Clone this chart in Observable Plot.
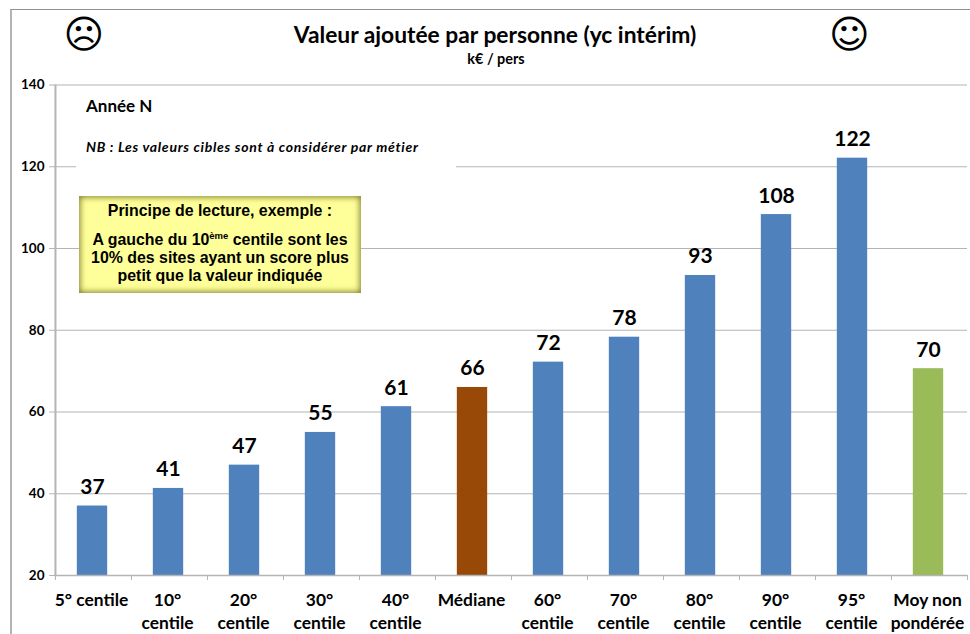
<!DOCTYPE html>
<html lang="fr">
<head>
<meta charset="utf-8">
<script src="https://cdn.jsdelivr.net/npm/d3@7"></script>
<script src="https://cdn.jsdelivr.net/npm/@observablehq/plot@0.6"></script>
<style>
html,body{margin:0;padding:0;background:#fff;}
#root{position:relative;width:970px;height:634px;overflow:hidden;font-family:Lato,"Open Sans",sans-serif;color:#000;}
#frame{position:absolute;left:10px;top:9px;right:-2px;bottom:-2px;border-left:2px solid #b4b4b4;border-top:1.5px solid #8f8f8f;}
#head{position:absolute;left:0;top:0;width:990px;text-align:center;font-weight:700;}
#title{position:absolute;top:21px;left:0;width:990px;font-size:22.8px;line-height:26px;}
#sub{position:absolute;top:51px;left:0;width:992px;font-size:14.4px;line-height:16px;}
.face{position:absolute;top:10px;font:400 39px/50px "DejaVu Sans";}
svg{position:absolute;left:0;top:0;}
#year{position:absolute;left:86px;top:97px;font-weight:700;font-size:17px;line-height:18px;}
#nb{position:absolute;left:76px;top:137px;width:370px;padding-left:10px;height:32px;background:#fff;font:italic 700 14px/20px Lato,sans-serif;letter-spacing:0.72px;white-space:nowrap;}
#box{position:absolute;left:79px;top:196px;width:282px;height:97px;box-sizing:border-box;background:#ffff99;box-shadow:inset 0 0 6px 1px #77772c;text-align:center;font:700 15.9px/18px "Liberation Sans",sans-serif;padding-top:6px;white-space:nowrap;}
#box p{margin:0;}
#box p.first{margin-bottom:11px;}
#box sup{font-size:9.5px;line-height:0;}
</style>
</head>
<body>
<div id="root">
  <div id="chart"></div>
  <div id="frame"></div>
  <div id="head">
    <div id="title">Valeur ajoutée par personne (yc intérim)</div>
    <div id="sub">k€ / pers</div>
  </div>
  <div class="face" style="left:63.5px">☹</div>
  <div class="face" style="left:829px">☺</div>
  <div id="year">Année N</div>
  <div id="nb">NB : Les valeurs cibles sont à considérer par métier</div>
  <div id="box">
    <p class="first">Principe de lecture, exemple :</p>
    <p>A gauche du 10<sup>ème</sup> centile sont les<br>10% des sites ayant un score plus<br>petit que la valeur indiquée</p>
  </div>
</div>
<script>
const categories = ["5° centile","10°\ncentile","20°\ncentile","30°\ncentile","40°\ncentile","Médiane","60°\ncentile","70°\ncentile","80°\ncentile","90°\ncentile","95°\ncentile","Moy non\npondérée"];
const values = [37, 41.3, 47, 55, 61.3, 66, 72.2, 78.3, 93.4, 108.3, 122.1, 70.6];
const valueLabels = ["37","41","47","55","61","66","72","78","93","108","122","70"];
const groups = ["c","c","c","c","c","m","c","c","c","c","c","a"];
const groupDomain = ["c","m","a"];
const groupColors = ["#4f81bd","#984807","#9bbb59"];
const yTicks = [20,40,60,80,100,120,140];

const rows = categories.map((c,i)=>({c, v:values[i], label:valueLabels[i], g:groups[i]}));

const width = 970, height = 634, mL = 54, mR = 3, mT = 84.5, mB = 59;
const step = (width - mL - mR) / categories.length;
const axisGrey = "#b4b4b4";

const plot = Plot.plot({
  width, height,
  marginLeft: mL, marginRight: mR, marginTop: mT, marginBottom: mB,
  style: {background:"transparent", fontFamily:"Lato, sans-serif", overflow:"visible"},
  x: {type:"band", domain:categories, padding:0, align:0.5, label:null},
  y: {type:"linear", domain:[20,140], label:null},
  color: {type:"ordinal", domain:groupDomain, range:groupColors},
  marks: [
    Plot.gridY(yTicks, {stroke:axisGrey, strokeOpacity:1, strokeWidth:1.2}),
    Plot.ruleX([categories[0]], {x:d=>d, dx:-step/2, y1:20, y2:140, stroke:axisGrey, strokeWidth:2}),
    Plot.barY(rows, {x:"c", y1:()=>20, y2:"v", fill:"g", insetLeft:step*0.3, insetRight:step*0.3, dx:-1}),
    Plot.ruleY([20], {stroke:axisGrey, strokeWidth:1.5}),
    Plot.axisX({tickSize:5, dx:-step/2, text:null, stroke:axisGrey, label:null}),
    Plot.axisX([categories[categories.length-1]], {tickSize:5, dx:step/2, text:null, stroke:axisGrey, label:null}),
    Plot.axisY(yTicks, {tickSize:5, tickPadding:5, stroke:axisGrey, fontSize:13.5, fontWeight:700, fill:"#000", label:null, tickFormat:d=>d}),
    Plot.axisX({tickSize:0, tickPadding:14, dx:-2, fontSize:17.4, fontWeight:700, fill:"#000", lineHeight:1.32, label:null, tickFormat:d=>d}),
    Plot.text(rows, {x:"c", y:"v", text:"label", dx:-1, dy:-12, lineAnchor:"bottom", fontSize:21, fontWeight:700, fill:"#000"})
  ]
});
document.getElementById("chart").appendChild(plot);
</script>
</body>
</html>
